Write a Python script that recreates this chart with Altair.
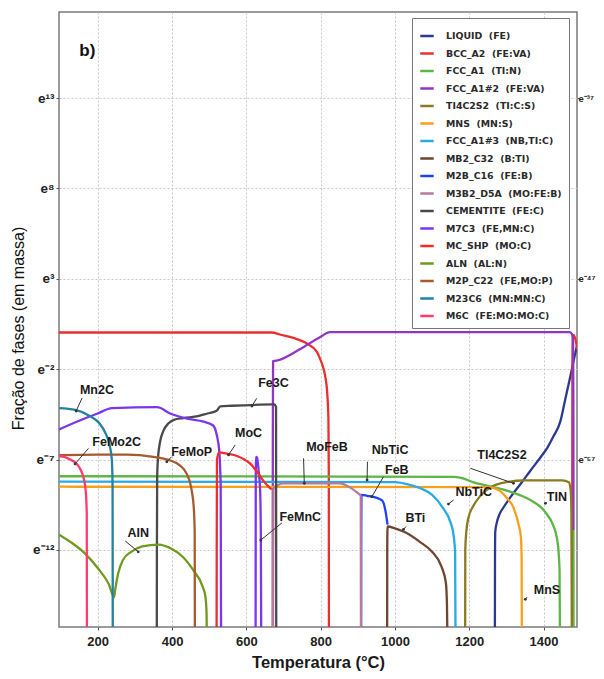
import altair as alt
import pandas as pd

# ---------------- axis ticks ----------------
x_ticks = [200, 400, 600, 800, 1000, 1200, 1400]
y_ticks = [13, 8, 3, -2, -7, -12]
y_tick_labels = ["e¹³", "e⁸", "e³", "e⁻²", "e⁻⁷", "e⁻¹²"]
y2_ticks = [13, 3, -7]
y2_tick_labels = ["e⁻³⁷", "e⁻⁴⁷", "e⁻⁵⁷"]

# ---------------- legend ----------------
phases = ["LIQUID\u00a0 (FE)", "BCC_A2\u00a0 (FE:VA)", "FCC_A1\u00a0 (TI:N)", "FCC_A1#2\u00a0 (FE:VA)",
          "TI4C2S2\u00a0 (TI:C:S)", "MNS\u00a0 (MN:S)", "FCC_A1#3\u00a0 (NB,TI:C)", "MB2_C32\u00a0 (B:TI)",
          "M2B_C16\u00a0 (FE:B)", "M3B2_D5A\u00a0 (MO:FE:B)", "CEMENTITE\u00a0 (FE:C)", "M7C3\u00a0 (FE,MN:C)",
          "MC_SHP\u00a0 (MO:C)", "ALN\u00a0 (AL:N)", "M2P_C22\u00a0 (FE,MO:P)", "M23C6\u00a0 (MN:MN:C)",
          "M6C\u00a0 (FE:MO:MO:C)"]
colors = ["#2b3a8f", "#e8302f", "#5cb545", "#9036c4", "#8b7a1e", "#f8a01c", "#2aaae2", "#6d4530",
          "#2240ff", "#b57a9c", "#4a4a4a", "#7b35f0", "#f02c2c", "#6f9a1e", "#a65a2e", "#23829f",
          "#ff3b6f"]

# ---------------- series (T in °C, ln of mass fraction) ----------------
T_liquid = [1269, 1269.3, 1270, 1274, 1282, 1292, 1310, 1338, 1365, 1391, 1410, 1427, 1445, 1458, 1472, 1485, 1491]
L_liquid = [-16.5, -12.5, -11.0, -10.5, -10.0, -9.65, -9.1, -8.35, -7.6, -6.9, -6.35, -5.7, -4.9, -3.7, -2.4, -1.15, -0.6]

T_bcc_a = [96, 669, 690, 727, 763, 790, 798, 806, 812, 818, 821, 822, 822.3]
L_bcc_a = [0.03, 0.03, -0.08, -0.27, -0.58, -1.04, -1.4, -1.85, -2.35, -3.4, -4.8, -8.0, -16.5]
T_bcc_b = [1477, 1477.3, 1477.6, 1478.5, 1481, 1485, 1491]
L_bcc_b = [-16.5, -8.0, -2.0, -0.4, -0.1, -0.3, -0.9]

T_fcc1_a = [96, 1160, 1185, 1210, 1250, 1290, 1338, 1370, 1391, 1410, 1423, 1438, 1443, 1444]
L_fcc1_a = [-7.92, -7.95, -8.05, -8.25, -8.45, -8.65, -8.98, -9.3, -9.6, -10.05, -10.5, -11.6, -13.1, -16.5]
T_fcc1_b = [1480.5, 1480.6, 1480.7]
L_fcc1_b = [-10.9, -13.0, -16.5]

T_fcc2 = [671, 671.3, 672, 687, 744, 799, 825, 1470, 1476, 1479.5, 1480.3, 1480.5]
L_fcc2 = [-16.5, -6.0, -1.56, -1.5, -0.9, -0.22, 0.05, 0.05, -0.05, -0.5, -4.0, -10.9]

T_ti4c2s2 = [1189, 1189.3, 1192, 1198, 1210, 1230, 1256, 1300, 1350, 1450, 1468, 1473, 1475, 1476]
L_ti4c2s2 = [-16.5, -12.0, -11.0, -10.2, -9.6, -9.0, -8.55, -8.25, -8.15, -8.15, -8.25, -8.7, -10.0, -16.5]

T_mns = [96, 1250, 1280, 1300, 1320, 1333, 1339, 1341, 1341.5]
L_mns = [-8.5, -8.52, -8.7, -9.1, -9.7, -10.6, -11.3, -12.5, -16.5]

T_fcc3 = [96, 1000, 1040, 1070, 1100, 1130, 1150, 1158, 1162, 1163]
L_fcc3 = [-8.22, -8.25, -8.4, -8.6, -8.95, -9.7, -10.5, -11.2, -12.2, -16.5]

T_mb2 = [979, 979.3, 980, 1000, 1030, 1067, 1100, 1125, 1137, 1140, 1141]
L_mb2 = [-16.5, -12.0, -10.7, -10.8, -11.05, -11.55, -12.1, -12.9, -13.8, -15.0, -16.5]

T_m2b = [909, 909.3, 910, 925, 965, 975, 980]
L_m2b = [-16.5, -12.0, -8.95, -9.0, -9.25, -9.9, -10.6]

T_m3b2 = [672, 672.3, 673, 685, 700, 850, 880, 900, 908, 908.5]
L_m3b2 = [-16.5, -12.0, -8.6, -8.4, -8.32, -8.32, -8.55, -8.85, -9.0, -16.5]

T_cem = [359, 359.3, 360, 362, 368, 377, 390, 405, 430, 470, 495, 520, 530, 560, 675, 680, 680.5]
L_cem = [-16.5, -12.0, -8.0, -7.0, -6.0, -5.4, -5.0, -4.8, -4.7, -4.6, -4.45, -4.3, -4.05, -4.02, -3.95, -4.1, -16.5]

T_m7c3_a = [96, 150, 200, 238, 360, 395, 440, 485, 510, 520, 527, 531, 532]
L_m7c3_a = [-5.33, -4.85, -4.45, -4.15, -4.1, -4.45, -4.73, -4.9, -5.1, -5.6, -6.5, -8.5, -16.5]
T_m7c3_b = [625, 625.3, 626, 629, 633, 637, 639, 640]
L_m7c3_b = [-16.5, -9.0, -6.85, -6.9, -7.6, -8.6, -11.0, -16.5]

T_mc = [520, 520.3, 521, 527, 550, 575, 597, 612, 624, 635, 645, 660, 668]
L_mc = [-16.5, -12.0, -7.0, -6.6, -6.68, -6.8, -7.02, -7.25, -7.55, -7.85, -8.15, -8.5, -8.65]

T_aln = [96, 130, 166, 200, 230, 244, 247, 255, 268, 290, 320, 363, 400, 430, 460, 480, 490, 493, 493.5]
L_aln = [-11.15, -11.6, -12.2, -13.0, -13.9, -14.6, -14.2, -13.3, -12.55, -12.1, -11.8, -11.7, -11.95, -12.4, -13.2, -13.9, -14.6, -15.5, -16.5]

T_m2p = [96, 200, 280, 350, 395, 420, 440, 452, 459, 461, 461.5]
L_m2p = [-6.75, -6.72, -6.72, -6.85, -7.05, -7.3, -7.8, -8.6, -9.8, -11.0, -16.5]

T_m23c6 = [96, 140, 180, 205, 220, 232, 238, 240, 240.5]
L_m23c6 = [-4.15, -4.25, -4.6, -5.0, -5.5, -6.2, -7.0, -8.5, -16.5]

T_m6c = [96, 110, 126, 142, 155, 163, 168, 170.5, 171]
L_m6c = [-6.8, -6.85, -7.0, -7.2, -7.6, -8.1, -8.8, -10.0, -16.5]

segments = [
    (0, "liq", T_liquid, L_liquid), (1, "bcc_a", T_bcc_a, L_bcc_a), (1, "bcc_b", T_bcc_b, L_bcc_b),
    (2, "fcc1_a", T_fcc1_a, L_fcc1_a), (2, "fcc1_b", T_fcc1_b, L_fcc1_b), (3, "fcc2", T_fcc2, L_fcc2),
    (4, "ti4", T_ti4c2s2, L_ti4c2s2), (5, "mns", T_mns, L_mns), (6, "fcc3", T_fcc3, L_fcc3),
    (7, "mb2", T_mb2, L_mb2), (8, "m2b", T_m2b, L_m2b), (9, "m3b2", T_m3b2, L_m3b2),
    (10, "cem", T_cem, L_cem), (11, "m7a", T_m7c3_a, L_m7c3_a), (11, "m7b", T_m7c3_b, L_m7c3_b),
    (12, "mc", T_mc, L_mc), (13, "aln", T_aln, L_aln), (14, "m2p", T_m2p, L_m2p),
    (15, "m23", T_m23c6, L_m23c6), (16, "m6c", T_m6c, L_m6c),
]
rows = []
for pi, seg, ts, ls in segments:
    for i, (t, l) in enumerate(zip(ts, ls)):
        rows.append({"phase": phases[pi], "seg": seg, "i": i, "T": t, "L": l})
df = pd.DataFrame(rows)

# ---------------- annotations ----------------
ann_text = ["Mn2C", "FeMo2C", "FeMoP", "Fe3C", "MoC", "FeMnC", "AIN", "MoFeB", "NbTiC", "FeB",
            "BTi", "NbTiC", "TI4C2S2", "TIN", "MnS"]
ann_T = [198, 251, 453, 673, 606, 745, 309, 817, 987, 1005, 1055, 1212, 1288, 1436, 1409]
ann_L = [-3.15, -6.01, -6.56, -2.78, -5.55, -10.16, -11.08, -6.29, -6.47, -7.58, -10.25, -8.78, -6.75, -9.05, -14.2]
lead_T1 = [158, 175, 399, 628, 570, 696, 274, 754, 926, 969, 1030, 1158, 1203, 1408, 1356]
lead_L1 = [-3.59, -6.38, -6.84, -3.61, -6.19, -10.5, -11.5, -6.93, -7.12, -7.95, -10.7, -9.23, -7.48, -9.35, -14.6]
lead_T2 = [142, 139, 386, 615, 552, 639, 309, 756, 925, 938, 1023, 1144, 1319, 1405, 1351]
lead_L2 = [-4.31, -7.24, -7.12, -4.04, -6.74, -11.45, -12.1, -8.31, -8.13, -9.05, -10.86, -9.46, -8.31, -9.42, -14.73]

ann_df = pd.DataFrame({"text": ann_text, "T": ann_T, "L": ann_L})
lead_df = pd.DataFrame({"T1": lead_T1, "L1": lead_L1, "T2": lead_T2, "L2": lead_L2})
panel_df = pd.DataFrame({"text": ["b)"], "T": [172], "L": [15.6]})

# ---------------- scales / axes ----------------
xscale = alt.Scale(domain=[95.8, 1490], nice=False, zero=False)
yscale = alt.Scale(domain=[-16.26, 17.76], nice=False, zero=False)

def label_expr(vals, labs):
    return " : ".join(f"datum.value == {v} ? '{s}'" for v, s in zip(vals, labs)) + " : ''"

FONT = "Liberation Sans"

x_axis = alt.Axis(values=x_ticks, format="d", title="Temperatura (°C)", labelPadding=5, tickSize=3,
                  labelFont=FONT, labelFontSize=13, labelFontWeight="bold", labelColor="#222",
                  titleFont=FONT, titleFontSize=16.5, titleFontWeight="bold", titleColor="#1a1a1a",
                  titleY=35, titleBaseline="middle")
y_axis = alt.Axis(values=y_ticks, labelExpr=label_expr(y_ticks, y_tick_labels),
                  title="Fração de fases (em massa)", tickSize=3, labelPadding=2,
                  labelFont=FONT, labelFontSize=13.5, labelFontWeight="bold", labelColor="#222",
                  titleFont=FONT, titleFontSize=16, titleFontWeight="normal", titleColor="#111",
                  titleX=-41, titleY=316, titleAngle=270, titleAlign="center", titleBaseline="middle")
y2_axis = alt.Axis(orient="right", values=y2_ticks, labelExpr=label_expr(y2_ticks, y2_tick_labels),
                   title=None, grid=False, tickSize=2, labelPadding=-1,
                   labelFont=FONT, labelFontSize=9.5, labelFontWeight="bold", labelColor="#222")

legend = alt.Legend(title=" ", titleFontSize=1, titlePadding=2, orient="none", legendX=353, legendY=6,
                    symbolType="stroke", symbolSize=180, symbolStrokeWidth=2.5, labelFont="DejaVu Sans",
                    labelFontSize=9.4, labelFontWeight="bold", labelColor="#2a2a2a", labelOffset=11,
                    rowPadding=4.5, padding=7, fillColor="white", strokeColor="#777777", labelLimit=220)

lines = alt.Chart(df).mark_line(strokeWidth=2.3, clip=True, interpolate="monotone").encode(
    x=alt.X("T:Q", scale=xscale, axis=x_axis),
    y=alt.Y("L:Q", scale=yscale, axis=y_axis),
    color=alt.Color("phase:N", scale=alt.Scale(domain=phases, range=colors), legend=legend),
    detail="seg:N",
    order="i:Q",
)

leaders = alt.Chart(lead_df).mark_rule(color="#333", strokeWidth=1).encode(
    x=alt.X("T1:Q", scale=xscale, axis=x_axis),
    x2="T2:Q",
    y=alt.Y("L1:Q", scale=yscale, axis=y2_axis),
    y2="L2:Q",
)
ends = alt.Chart(lead_df).mark_point(filled=True, color="#333", size=8, opacity=1).encode(
    x=alt.X("T2:Q", scale=xscale, axis=x_axis),
    y=alt.Y("L2:Q", scale=yscale, axis=None),
)

labels = alt.Chart(ann_df).mark_text(font=FONT, fontSize=12.5, fontWeight="bold", color="#1a1a1a").encode(
    x=alt.X("T:Q", scale=xscale, axis=x_axis),
    y=alt.Y("L:Q", scale=yscale, axis=None),
    text="text:N",
)
panel = alt.Chart(panel_df).mark_text(font=FONT, fontSize=17, fontWeight="bold", color="#111").encode(
    x=alt.X("T:Q", scale=xscale, axis=x_axis),
    y=alt.Y("L:Q", scale=yscale, axis=None),
    text="text:N",
)

chart = alt.layer(lines, leaders, ends, labels, panel).resolve_axis(y="independent", x="shared").resolve_scale(
    y="shared", x="shared"
).properties(
    width=518, height=615,
    autosize=alt.AutoSizeParams(type="none"),
    padding={"left": 51, "top": 4, "right": 19, "bottom": 44},
).configure_view(stroke="#7a7a7a", strokeWidth=1.5).configure_axis(
    grid=True, gridColor="#c8c8c8", gridDash=[2, 2], gridWidth=1, domain=False, tickColor="#555",
).configure_axisRight(grid=False)

chart.save("out.html", embed_options={"renderer": "svg", "actions": False})
